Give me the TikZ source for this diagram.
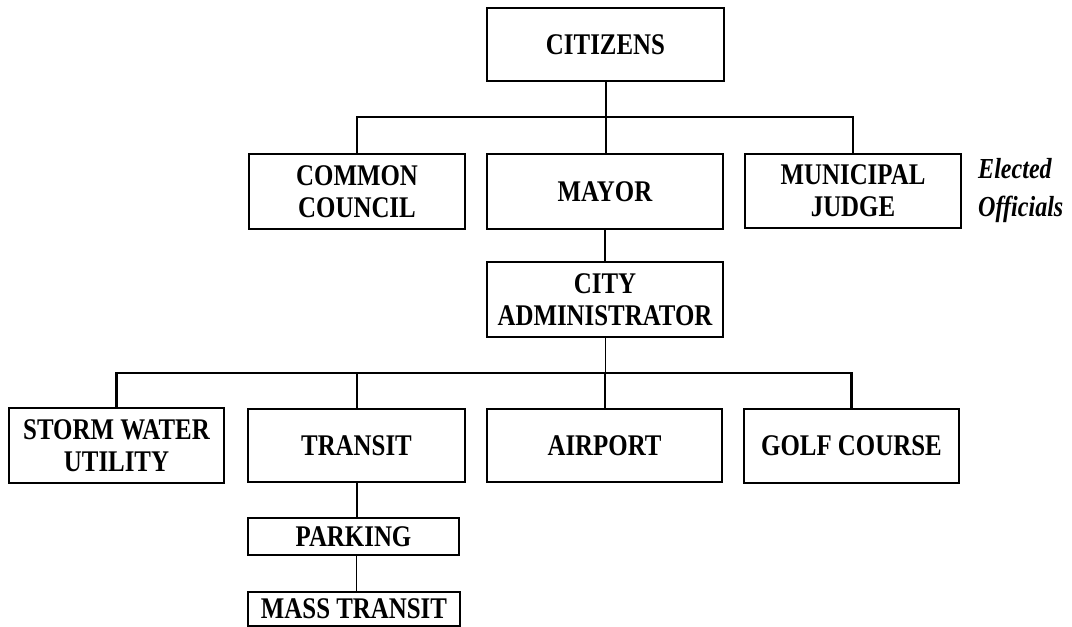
\documentclass[tikz,border=0pt]{standalone}
\usepackage{fontspec}
\setmainfont{Liberation Serif}[FakeStretch=0.83]
\begin{document}
\begin{tikzpicture}[x=1pt,y=-1pt,
  box/.style={draw, line width=2.6pt, inner sep=0pt, align=center,
    font=\fontsize{30}{32}\selectfont\bfseries},
  conn/.style={line width=2.5pt},
  vconn/.style={line width=2pt},
  thinconn/.style={line width=1pt}]
\useasboundingbox (0,0) rectangle (1072,627);
% level 1
\node[box, minimum width=237pt, minimum height=73pt] (citizens) at (605.5,44.5) {CITIZENS};
% level 2
\node[box, minimum width=216pt, minimum height=75pt] (council) at (357,191.5) {COMMON\\COUNCIL};
\node[box, minimum width=236pt, minimum height=75pt] (mayor) at (605,191.5) {MAYOR};
\node[box, minimum width=216pt, minimum height=74pt] (judge) at (853,191) {MUNICIPAL\\JUDGE};
\node[inner sep=0pt, anchor=west, align=left,
  font=\fontsize{29}{38}\selectfont\bfseries\itshape] (elected) at (978,191) {Elected\\Officials};
% level 3
\node[box, minimum width=236pt, minimum height=75pt] (admin) at (605,299.5) {CITY\\ADMINISTRATOR};
% level 4
\node[box, minimum width=215pt, minimum height=75pt] (storm) at (116.5,445.5) {STORM WATER\\UTILITY};
\node[box, minimum width=217pt, minimum height=73pt] (transit) at (356.5,445.5) {TRANSIT};
\node[box, minimum width=235pt, minimum height=73pt] (airport) at (604.5,445.5) {AIRPORT};
\node[box, minimum width=215pt, minimum height=74pt] (golf) at (851.5,446) {GOLF COURSE};
% level 5
\node[box, minimum width=211pt, minimum height=37pt] (parking) at (353.5,536.5) {PARKING};
\node[box, minimum width=212pt, minimum height=34pt] (mass) at (354,609) {MASS TRANSIT};
% bus coordinates
\coordinate (b1) at (605,117);
\coordinate (b2) at (604.5,373);
% connectors
\draw[vconn] (citizens.south) -- (citizens.south |- mayor.north);
\draw[conn] (council.north) |- (b1) -| (judge.north);
\draw[vconn] (mayor.south) -- (mayor.south |- admin.north);
\draw[thinconn] (admin.south) -- (admin.south |- b2);
\draw[vconn] (b2) -- (airport.north);
\draw[conn] (storm.north) |- (b2) -| (golf.north);
\draw[vconn] (transit.north) -- (transit.north |- b2);
\draw[vconn] (transit.south) -- (transit.south |- parking.north);
\draw[thinconn] (transit.south |- parking.south) -- (transit.south |- mass.north);
\end{tikzpicture}
\end{document}
